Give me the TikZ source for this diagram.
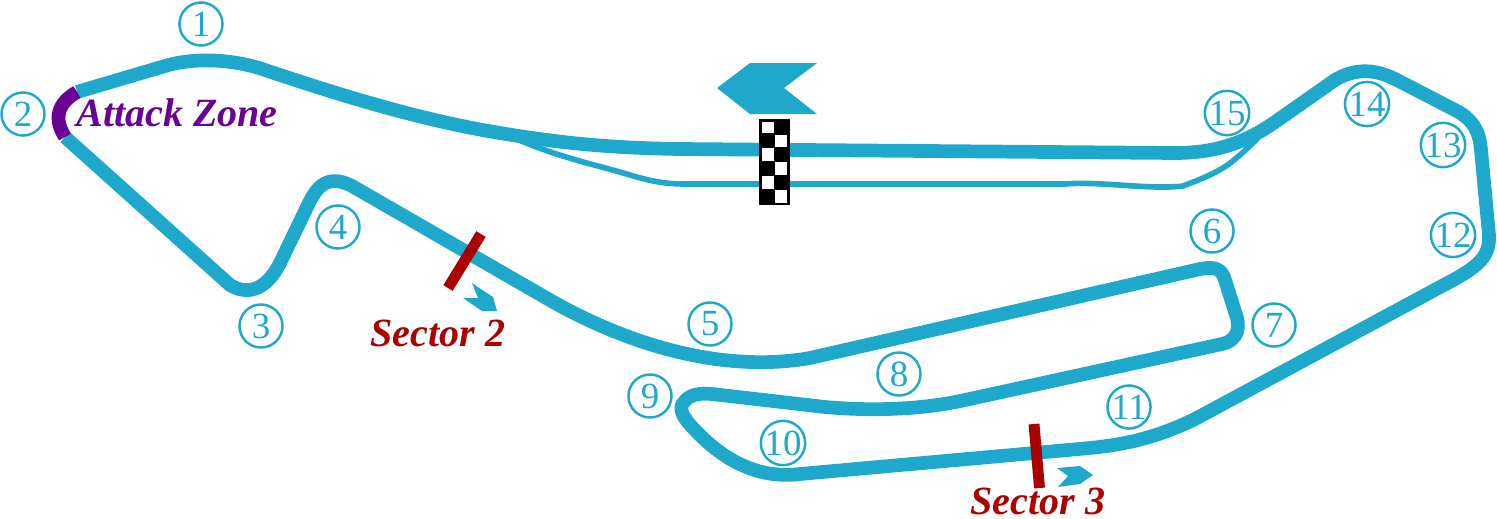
\documentclass[tikz,border=0pt]{standalone}
\usepackage{fontspec}
\setmainfont{Liberation Serif}
\usepackage{tikz}
\definecolor{trackblue}{HTML}{1EA9CC}
\definecolor{zonepurple}{HTML}{6A0094}
\definecolor{sectorred}{HTML}{AA0000}
\tikzset{
  turn/.style={circle, draw=trackblue, line width=1.4pt, fill=white, text=trackblue,
    minimum size=24.5pt, inner sep=0pt, font=\fontsize{21}{21}\selectfont},
  sectorlabel/.style={text=sectorred, inner sep=0pt, font=\fontsize{22.8}{22.8}\selectfont\bfseries\itshape},
  track/.style={draw=trackblue, line width=7.8pt, line join=round},
  pitlane/.style={draw=trackblue, line width=3.2pt, line join=round},
  sectormark/.style={draw=sectorred, line width=6.2pt},
}
\begin{document}
\begin{tikzpicture}[x=0.02cm, y=-0.02cm]
  \useasboundingbox (0,0) rectangle (1497,518);

  % Pit lane
  \draw[pitlane]
    (512,137) .. controls (560,158) and (590,163) .. (630,175)
    .. controls (650,181) and (665,184) .. (685,184)
    -- (1065,184)
    .. controls (1100,181) and (1150,190) .. (1183,186)
    .. controls (1225,170) and (1230,165) .. (1258,138);

  % Main track
  \draw[track]
    (77,92) -- (165,66)
    .. controls (195,57) and (235,59) .. (268,71)
    .. controls (340,95) and (420,120) .. (500,133)
    .. controls (560,143) and (610,148) .. (680,149)
    -- (1175,153)
    .. controls (1215,153) and (1245,143) .. (1275,122)
    -- (1335,80)
    .. controls (1355,68) and (1375,69) .. (1395,79)
    -- (1455,110)
    .. controls (1475,120) and (1480,135) .. (1481,150)
    -- (1489,235)
    .. controls (1490,255) and (1480,265) .. (1455,279)
    -- (1195,419)
    .. controls (1160,436) and (1130,444) .. (1090,448)
    -- (800,474)
    .. controls (760,479) and (725,462) .. (695,430)
    .. controls (682,417) and (678,408) .. (684,402)
    .. controls (690,394) and (700,393) .. (712,394)
    -- (825,407)
    .. controls (870,411) and (920,410) .. (965,400)
    -- (1222,344)
    .. controls (1236,341) and (1240,330) .. (1237,318)
    -- (1225,280)
    .. controls (1222,269) and (1215,266) .. (1200,269)
    -- (810,358)
    .. controls (730,372) and (640,350) .. (555,303)
    -- (352,186)
    .. controls (330,175) and (318,183) .. (308,205)
    -- (280,263)
    .. controls (268,287) and (250,297) .. (230,285)
    -- (65,137);

  % Attack zone
  \draw[draw=zonepurple, line width=7.8pt]
    (65,137) .. controls (53,118) and (58,103) .. (77,92);
  \node[sectorlabel, text=zonepurple] (zone) at (177,113) {Attack Zone};

  % Start flag
  \fill[trackblue] (717,88) -- (750,63) -- (817,63) -- (784,88) -- (817,114) -- (750,114) -- cycle;
  \fill[black] (759,119) rectangle (790,205);
  \fill[white] (761.5,121.5) rectangle (774,133);
  \fill[white] (775,134.5) rectangle (787,147);
  \fill[white] (761.5,148) rectangle (774,161);
  \fill[white] (775,162) rectangle (787,175);
  \fill[white] (761.5,176) rectangle (774,189);
  \fill[white] (775,190) rectangle (787,202.5);

  % Sector 2
  \draw[sectormark] (481,234) -- (448,288);
  \fill[trackblue] (472,283) -- (493,297) -- (497,311) -- (482,311) -- (463,298) -- (478,298) -- cycle;
  \node[sectorlabel] (sector2) at (438,333) {Sector 2};

  % Sector 3
  \draw[sectormark] (1034,424) -- (1039.5,488);
  \fill[trackblue] (1057,468) -- (1080,466) -- (1093,475) -- (1080,484) -- (1058,487) -- (1068,476) -- cycle;
  \node[sectorlabel] (sector3) at (1038,501) {Sector 3};

  % Turn numbers
  \node[turn] (t1) at (201,24) {1};
  \node[turn] (t2) at (23,114) {2};
  \node[turn] (t3) at (261,326) {3};
  \node[turn] (t4) at (338,227) {4};
  \node[turn] (t5) at (710,324) {5};
  \node[turn] (t6) at (1212,231) {6};
  \node[turn] (t7) at (1274,325) {7};
  \node[turn] (t8) at (899,374) {8};
  \node[turn] (t9) at (650,396) {9};
  \node[turn] (t10) at (783,443) {10};
  \node[turn] (t11) at (1129,407) {11};
  \node[turn] (t12) at (1453,235) {12};
  \node[turn] (t13) at (1443,145) {13};
  \node[turn] (t14) at (1367,104) {14};
  \node[turn] (t15) at (1227,113) {15};
\end{tikzpicture}
\end{document}
